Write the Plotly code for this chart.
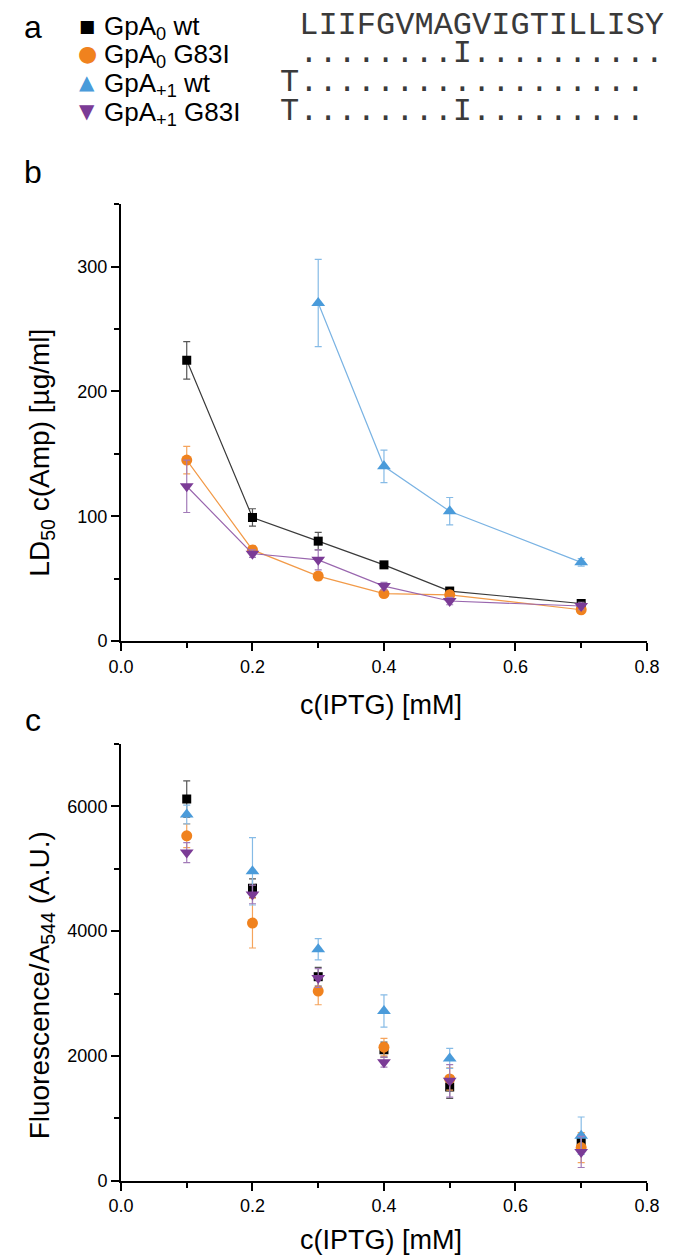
import plotly.graph_objects as go

W, H = 675, 1259

# ---------------- data ----------------
series_names = ["GpA<sub>0</sub> wt", "GpA<sub>0</sub> G83I",
                "GpA<sub>+1</sub> wt", "GpA<sub>+1</sub> G83I"]
legend_glyphs = ["\u25A0", "\u25CF", "\u25B2", "\u25BC"]

# panel b : LD50 c(Amp) [ug/ml] vs c(IPTG) [mM]
b_x_all = [0.1, 0.2, 0.3, 0.4, 0.5, 0.7]
b_x_gpa1wt = [0.3, 0.4, 0.5, 0.7]
b_gpa0_wt = [225, 99, 80, 61, 40, 30]
b_gpa0_wt_err = [15, 7, 7, 2, 2, 2]
b_gpa0_g83i = [145, 73, 52, 38, 37, 25]
b_gpa0_g83i_err = [11, 3, 3, 2, 3, 2]
b_gpa1_wt = [271, 140, 104, 63]
b_gpa1_wt_err = [35, 13, 11, 3]
b_gpa1_g83i = [124, 70, 65, 44, 32, 28]
b_gpa1_g83i_err = [21, 3, 8, 3, 3, 3]

# panel c : Fluorescence/A544 (A.U.) vs c(IPTG) [mM]
c_x = [0.1, 0.2, 0.3, 0.4, 0.5, 0.7]
c_gpa0_wt = [6120, 4690, 3270, 2100, 1500, 620]
c_gpa0_wt_err = [290, 150, 150, 120, 180, 120]
c_gpa0_g83i = [5530, 4130, 3040, 2140, 1630, 530]
c_gpa0_g83i_err = [190, 400, 220, 140, 180, 240]
c_gpa1_wt = [5870, 4960, 3710, 2720, 1960, 720]
c_gpa1_wt_err = [150, 540, 170, 260, 160, 300]
c_gpa1_g83i = [5260, 4590, 3250, 1900, 1600, 460]
c_gpa1_g83i_err = [160, 150, 150, 80, 260, 250]

# sequence alignment (panel a), all rows 20 columns wide
NB = "\u00a0"
seq_rows = [NB + "LIIFGVMAGVIGTILLISY",
            NB + "........I..........",
            "T.................." + NB,
            "T........I........." + NB]

# ---------------- styles ----------------
symbols = ["square", "circle", "triangle-up", "triangle-down"]
msizes = [9, 11, 12, 12]
glyph_sizes = [17, 22, 20, 20]
mcolors = ["#000000", "#F0821E", "#4A9BDA", "#7B3B96"]
lcolors = ["#3a3a3a", "#F29A48", "#7AB3E3", "#9966AE"]
ecolors = ["#555555", "#F5A45C", "#86BBE6", "#A27BB8"]

FONT = "Arial, Liberation Sans, sans-serif"


def px(x):
    return x / W


def py(y):
    return 1 - y / H


fig = go.Figure()

b_sets = [(b_x_all, b_gpa0_wt, b_gpa0_wt_err),
          (b_x_all, b_gpa0_g83i, b_gpa0_g83i_err),
          (b_x_gpa1wt, b_gpa1_wt, b_gpa1_wt_err),
          (b_x_all, b_gpa1_g83i, b_gpa1_g83i_err)]
for i, (xs, ys, es) in enumerate(b_sets):
    fig.add_trace(go.Scatter(
        x=xs, y=ys, mode="lines+markers", name=series_names[i],
        showlegend=False, xaxis="x", yaxis="y",
        line=dict(color=lcolors[i], width=1.2),
        marker=dict(symbol=symbols[i], size=msizes[i], color=mcolors[i]),
        error_y=dict(type="data", array=es, visible=True,
                     color=ecolors[i], thickness=1.2, width=3.5)))

c_sets = [(c_gpa0_wt, c_gpa0_wt_err), (c_gpa0_g83i, c_gpa0_g83i_err),
          (c_gpa1_wt, c_gpa1_wt_err), (c_gpa1_g83i, c_gpa1_g83i_err)]
for i, (ys, es) in enumerate(c_sets):
    fig.add_trace(go.Scatter(
        x=c_x, y=ys, mode="markers", name=series_names[i],
        showlegend=False, xaxis="x2", yaxis="y2",
        marker=dict(symbol=symbols[i], size=msizes[i], color=mcolors[i]),
        error_y=dict(type="data", array=es, visible=True,
                     color=ecolors[i], thickness=1.2, width=3.5)))

axis_common = dict(showline=True, linecolor="black", linewidth=2,
                   ticks="outside", ticklen=8, tickwidth=2, tickcolor="black",
                   showgrid=False, zeroline=False,
                   tickfont=dict(family=FONT, size=18, color="black"))
minor_common = dict(ticklen=5, tickwidth=2, tickcolor="black", ticks="outside")

xdom = [px(104), px(651)]
fig.update_layout(
    width=W, height=H,
    margin=dict(l=0, r=0, t=0, b=0),
    paper_bgcolor="white", plot_bgcolor="white",
    showlegend=False,
    xaxis=dict(domain=xdom, range=[0, 0.8], dtick=0.2, tick0=0,
               tickformat=".1f", anchor="y",
               minor=dict(dtick=0.1, **minor_common), **axis_common),
    yaxis=dict(domain=[py(638), py(198)], range=[0, 350], dtick=100,
               tick0=0, anchor="x",
               minor=dict(dtick=50, **minor_common), **axis_common),
    xaxis2=dict(domain=xdom, range=[0, 0.8], dtick=0.2, tick0=0,
                tickformat=".1f", anchor="y2",
                minor=dict(dtick=0.1, **minor_common), **axis_common),
    yaxis2=dict(domain=[py(1182), py(742)], range=[0, 7000], dtick=2000,
                tick0=0, anchor="x2",
                minor=dict(dtick=1000, **minor_common), **axis_common),
)

annots = []


def add_text(text, x, y, size, family=FONT, color="black", xanchor="center",
             angle=0):
    annots.append(dict(text=text, x=px(x), y=py(y), xref="paper",
                       yref="paper", showarrow=False, xanchor=xanchor,
                       yanchor="middle", textangle=angle,
                       font=dict(family=family, size=size, color=color)))


# panel letters
add_text("a", 12, 19, 32)
add_text("b", 12, 165, 32)
add_text("c", 12, 718, 32)

row_y = [18, 46, 75, 104]
# legend (panel a)
for i in range(4):
    add_text(legend_glyphs[i], 69, row_y[i], glyph_sizes[i],
             family="DejaVu Sans", color=mcolors[i])
    add_text(series_names[i], 84, row_y[i] + 2, 26, xanchor="left")
# sequences
for row, y in zip(seq_rows, row_y):
    add_text(row, 671, y, 32, family="Liberation Mono, Courier New, monospace",
             color="#3a3a3a", xanchor="right")

# axis titles
add_text("c(IPTG) [mM]", 374, 703, 27)
add_text("c(IPTG) [mM]", 374, 1242, 27)
add_text("LD<sub>50</sub> c(Amp) [µg/ml]", 21, 448, 28, angle=-90)
add_text("Fluorescence/A<sub>544</sub> (A.U.)", 21, 985, 28, angle=-90)

fig.update_layout(annotations=annots)

fig.write_html("out.html")
